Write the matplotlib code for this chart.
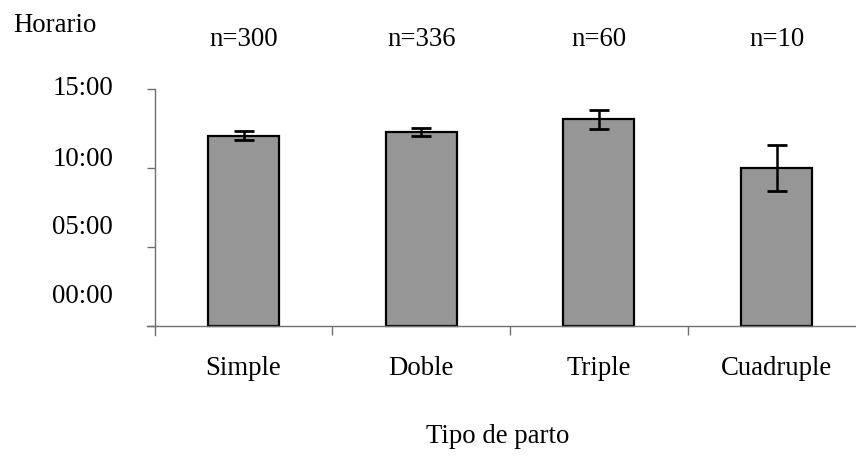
import numpy as np
import matplotlib
matplotlib.use("Agg")
import matplotlib.pyplot as plt
import matplotlib.transforms as mtransforms

plt.rcParams['font.family'] = ['Liberation Serif', 'DejaVu Serif']

# datos (horas decimales)
categorias = ['Simple', 'Doble', 'Triple', 'Cuadruple']
horario_medio = [12.06, 12.30, 13.10, 10.02]
error_std = [0.27, 0.27, 0.60, 1.48]
n_muestra = [300, 336, 60, 10]
ticks_y = [0, 5, 10, 15]
etiquetas_y = ['00:00', '05:00', '10:00', '15:00']

fs = 19.3
fig = plt.figure(figsize=(8.56, 4.60), dpi=100)
# ejes: x de -0.545 a 3.5 (177.7 px por categoria), y de -0.57 a 15 (15.8 px por hora)
ax = fig.add_axes([146.7 / 856, (460 - 336.3) / 460, 718.8 / 856, 246.0 / 460])

x = np.arange(len(categorias))
ax.bar(x, horario_medio, width=0.40, color='#969696', edgecolor='black', linewidth=1.6, zorder=2)
ax.errorbar(x, horario_medio, yerr=error_std, fmt='none', ecolor='black',
            elinewidth=1.8, capsize=7, capthick=2.0, zorder=3)

ax.set_xlim(-0.545, 3.5)
ax.set_ylim(-0.57, 15)
for s in ['top', 'right']:
    ax.spines[s].set_visible(False)
ax.spines['left'].set_position(('data', -0.5))
ax.spines['bottom'].set_position(('data', 0))
ax.spines['left'].set_bounds(-0.57, 15)
for s in ['left', 'bottom']:
    ax.spines[s].set_color('#707070')
    ax.spines[s].set_linewidth(1.0)

# eje y: marcas sin texto, el texto va aparte (desplazado como en el original)
ax.set_yticks(ticks_y)
ax.set_yticklabels([])
ax.tick_params(axis='y', direction='out', length=6, width=1.0, color='#707070')
label_y = [1.92, 6.33, 10.63, 15.13]
trans_y = mtransforms.blended_transform_factory(fig.transFigure, ax.transData)
for ly, txt in zip(label_y, etiquetas_y):
    fig.text(113 / 856, ly, txt, transform=trans_y, ha='right', va='center', fontsize=fs)

# eje x
ax.set_xticks(x)
ax.set_xticklabels(categorias, fontsize=fs)
ax.tick_params(axis='x', which='major', length=0, pad=21)
ax.set_xticks(x[:-1] + 0.5, minor=True)
ax.tick_params(axis='x', which='minor', direction='out', length=6.5, width=1.0, color='#707070')

# n por grupo
trans_n = mtransforms.blended_transform_factory(ax.transData, fig.transFigure)
for xi, n in zip(x, n_muestra):
    ax.text(xi, 1 - 40 / 460, 'n=%d' % n, transform=trans_n, ha='center', va='center',
            fontsize=fs, clip_on=False)

fig.text(13 / 856, 1 - 25 / 460, 'Horario', ha='left', va='center', fontsize=fs)
fig.text(498 / 856, 1 - 437 / 460, 'Tipo de parto', ha='center', va='center', fontsize=fs)

fig.savefig('out.png', dpi=100)
